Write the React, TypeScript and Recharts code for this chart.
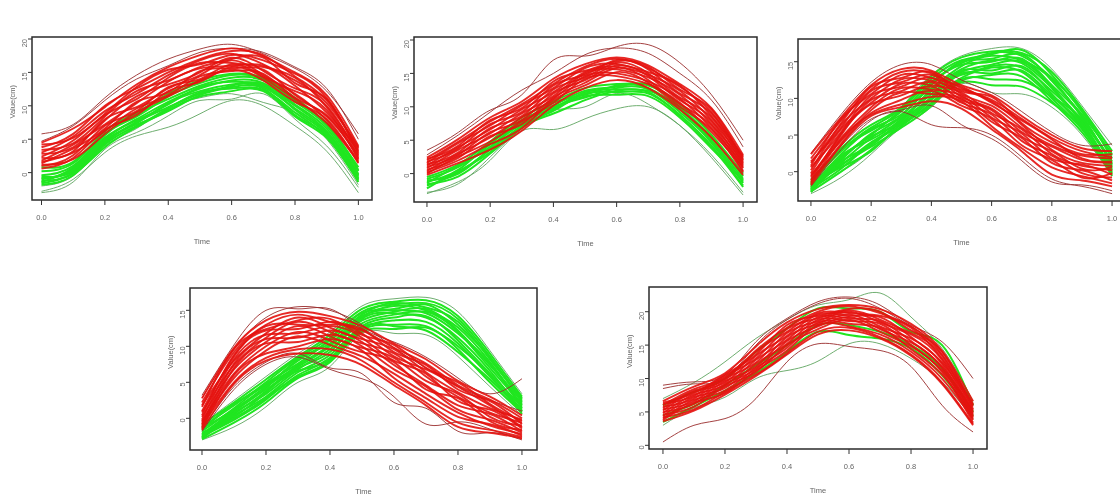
import React from "react";
import { LineChart, Line, XAxis, YAxis, ReferenceArea } from "recharts";

const time = [0, 0.1, 0.2, 0.3, 0.4, 0.5, 0.6, 0.7, 0.8, 0.9, 1];
const xTicks = [0, 0.2, 0.4, 0.6, 0.8, 1];
const xLabels = ["0.0", "0.2", "0.4", "0.6", "0.8", "1.0"];

const p1Green = [
  [-28,-10,30,55,68,88,108,100,70,32,-30],[-30,-14,35,60,85,108,110,118,80,40,-22],[-20,-5,40,66,98,112,118,105,90,50,-18],
  [8,16,62,90,118,138,148,142,112,72,8],[2,14,58,84,114,134,146,140,108,74,4],[-4,10,56,88,110,130,142,138,106,70,2],
  [-10,6,50,80,106,126,138,134,102,66,-2],[-14,8,52,78,102,128,136,130,100,62,-4],[-6,2,46,74,104,122,132,128,96,60,-8],
  [-16,0,44,76,98,118,130,132,94,58,-6],[-18,-4,42,70,96,120,126,124,90,54,-12],[-8,4,48,72,92,116,128,126,86,56,-10],
  [-12,-2,38,68,94,114,122,122,84,52,-14],
];
const p1Red = [
  [58,72,112,146,170,185,192,178,156,122,58],[47,70,108,140,160,180,186,180,158,126,50],
  [45,66,98,132,158,176,186,174,150,116,40],[38,58,100,126,150,170,182,176,144,108,36],[42,52,88,128,154,162,176,168,148,112,30],
  [30,54,92,118,146,168,178,162,138,104,38],[34,44,84,122,138,158,170,172,134,110,28],[24,48,86,110,142,164,164,158,142,98,32],
  [28,38,78,114,132,150,172,152,126,100,24],[18,42,72,104,136,156,160,160,130,90,34],[22,32,80,98,126,146,168,146,122,94,20],
  [14,36,66,106,120,152,156,154,116,84,26],[10,26,70,92,128,140,162,144,118,78,18],[16,30,62,96,116,144,152,148,112,86,22],
  [6,22,64,86,122,136,158,142,110,74,16],[12,20,58,90,114,138,154,138,106,80,14],
];

const p2Green = [
  [-30,-12,20,64,66,82,97,100,72,24,-32],[-28,-15,25,68,95,100,120,104,72,28,-28],
  [-5,14,48,84,108,128,134,132,104,58,0],[-8,10,44,80,102,124,130,134,100,54,-4],[-12,6,46,76,106,118,132,128,96,50,-8],
  [-14,12,40,78,98,122,126,124,98,46,-12],[-18,2,36,72,100,114,128,126,92,48,-14],[-10,0,38,74,94,120,122,120,88,42,-18],
  [-22,4,32,70,90,110,124,122,86,38,-10],[-16,-4,30,68,96,116,118,116,84,40,-20],
];
const p2Red = [
  [35,62,95,118,170,176,190,193,166,118,50],[28,58,92,125,150,178,188,180,150,110,40],
  [24,52,84,108,142,164,174,162,134,98,28],[20,48,78,104,134,160,172,158,130,92,24],[22,42,80,98,138,154,168,160,126,96,20],
  [16,46,72,102,128,158,164,152,132,86,26],[18,38,74,92,132,148,170,156,120,90,16],[12,40,66,96,122,152,160,148,124,80,22],
  [14,32,68,86,126,144,166,150,114,84,12],[8,36,60,90,116,150,156,144,118,74,18],[10,28,62,80,120,140,162,146,110,78,8],
  [4,30,54,84,112,146,150,138,112,68,14],[6,24,56,74,114,136,158,140,104,72,4],[0,26,48,78,106,142,146,134,106,62,10],
  [2,20,44,68,110,132,152,136,100,66,2],[-2,16,36,64,102,128,140,128,96,54,-2],
];

const p3Green = [
  [-28,0,30,86,132,158,168,168,140,90,36],[-30,-8,24,60,88,120,108,106,88,50,-6],
  [-11,32,64,88,130,156,164,162,136,86,28],[-14,28,60,86,126,152,160,166,132,82,22],[-18,30,56,82,122,148,162,158,128,84,18],
  [-20,24,58,78,118,150,154,160,124,78,24],[-22,20,50,84,114,144,158,152,126,74,14],[-16,16,52,76,120,146,150,154,118,76,8],
  [-24,22,44,72,110,140,152,148,114,70,12],[-26,12,46,74,106,136,146,150,116,66,4],[-19,8,40,68,112,132,144,142,110,68,0],
  [-28,14,36,70,102,138,138,144,106,62,6],[-23,4,38,64,98,128,142,136,100,58,-2],[-27,0,30,62,94,124,132,130,96,54,-4],
  [-25,18,48,66,92,122,118,116,94,60,2],[-21,10,34,60,90,126,126,124,102,64,-6],[-17,6,28,66,100,134,134,138,104,72,10],
];
const p3Red = [
  [25,78,122,146,146,125,108,82,54,36,38],[-20,30,70,82,64,60,50,20,-10,-20,-30],[-10,35,72,84,90,64,45,15,-14,-18,-26],
  [24,74,118,140,138,118,104,76,50,32,28],[18,70,112,136,134,114,98,72,46,28,20],[12,66,116,128,136,110,102,66,40,24,24],
  [8,72,106,132,128,116,94,70,44,18,14],[14,60,110,122,132,106,90,60,36,22,18],[2,64,100,126,124,112,96,64,30,12,8],
  [6,54,104,116,128,102,86,54,34,16,12],[-2,58,94,120,118,108,80,58,24,8,2],[-6,50,98,110,122,98,84,48,28,4,6],
  [-8,46,88,114,112,104,74,52,18,10,-4],[-12,52,92,104,116,94,78,42,22,-2,-8],[-4,42,84,108,106,100,68,46,12,2,-12],
  [-14,38,80,98,110,90,72,36,16,-8,-2],[-16,44,78,92,102,96,62,32,6,-6,-16],[-18,36,76,88,96,86,58,28,-4,-12,-20],
];

const p4Green = [
  [-8,25,58,90,120,156,166,168,148,94,34],[-30,-12,16,50,72,118,118,116,86,44,4],
  [-9,22,54,86,116,152,162,164,142,90,30],[-12,18,50,84,112,148,158,160,138,86,26],[-16,20,46,80,108,144,160,154,134,82,28],
  [-18,14,48,76,110,146,152,158,130,84,22],[-22,10,42,82,104,140,156,150,126,78,18],[-14,12,44,72,100,136,148,152,122,74,24],
  [-24,6,38,74,102,142,150,146,118,76,14],[-26,8,34,68,96,132,144,148,120,70,20],[-20,2,36,70,92,138,146,140,112,66,10],
  [-28,4,30,64,88,128,140,142,108,62,16],[-25,-2,26,60,84,124,136,134,104,58,12],[-29,-6,22,56,78,122,130,128,96,50,8],
  [-27,12,40,66,82,126,128,122,92,54,10],[-23,0,28,58,80,120,124,126,100,60,6],
];
const p4Red = [
  [32,102,150,152,152,125,106,85,56,34,55],[28,96,140,155,150,130,98,70,44,25,10],[-18,40,75,85,68,55,30,-8,-5,-15,-30],[-15,44,78,90,70,62,22,14,-18,-20,-28],
  [28,98,136,148,142,128,104,82,52,30,4],[22,92,130,144,134,122,98,76,46,26,0],[16,96,124,136,138,116,102,70,50,20,-4],
  [10,86,128,130,130,124,92,74,40,24,-8],[18,80,118,140,126,110,96,64,36,14,-2],[4,88,122,124,134,118,86,68,44,18,-12],
  [8,74,112,134,120,104,90,58,30,8,-6],[-2,82,116,118,128,112,80,62,24,12,-14],[2,68,106,128,114,98,84,52,34,2,-10],
  [-8,76,110,112,122,106,74,46,18,6,-18],[-4,62,100,120,108,92,78,40,28,-4,-16],[-12,70,104,106,116,100,68,44,12,-2,-20],
  [-6,56,94,114,102,86,62,34,8,-10,-22],[-14,60,90,100,110,94,56,28,2,-8,-24],[-10,50,84,96,96,80,50,22,-6,-16,-26],[-16,48,80,90,88,74,46,18,-12,-20,-28],
];

const p5Green = [
  [70,94,125,160,188,210,218,228,192,145,66],[30,56,72,100,112,126,152,152,130,95,40],
  [60,80,100,140,175,205,205,200,170,150,60],[45,62,90,120,150,180,180,170,150,115,50],[35,58,82,108,140,170,165,160,145,105,44],
];
const p5Red = [
  [90,95,105,155,190,215,222,210,180,155,100],[85,92,100,150,188,212,220,205,178,140,60],[5,30,40,70,125,152,148,142,118,60,20],
  [66,88,108,148,184,204,210,204,182,142,66],[60,84,102,142,176,200,208,198,178,136,60],[64,78,106,136,180,194,204,200,172,140,54],
  [56,82,98,140,170,198,198,194,176,130,62],[62,74,104,130,174,190,202,188,168,134,50],[52,80,94,134,164,196,194,192,162,124,58],
  [58,70,100,124,168,186,200,184,166,128,46],[48,76,90,128,158,192,190,186,156,118,52],[54,66,96,118,162,182,196,178,160,122,42],
  [44,72,86,122,152,188,186,182,150,112,48],[50,62,92,114,156,178,192,174,154,116,38],[40,68,82,116,146,184,182,176,144,106,44],
  [46,58,88,110,150,174,188,170,148,110,34],[38,64,78,112,142,180,178,166,140,100,40],[42,54,80,106,138,170,176,162,136,94,32],[36,52,76,104,136,166,172,160,134,92,30],
];

const yTicks1 = [0, 50, 100, 150, 200];
const yLabels1 = ["0", "5", "10", "15", "20"];
const yTicks2 = [0, 50, 100, 150];
const yLabels2 = ["0", "5", "10", "15"];

const panels = [
  { left: 32, top: 37, w: 340, h: 163, xDom: [-0.03, 1.043], yDom: [-41, 203], yTicks: yTicks1, yLabels: yLabels1, green: p1Green, red: p1Red, gEdge: 3, rEdge: 2 },
  { left: 414, top: 37, w: 343, h: 165, xDom: [-0.041, 1.044], yDom: [-42.5, 204.5], yTicks: yTicks1, yLabels: yLabels1, green: p2Green, red: p2Red, gEdge: 2, rEdge: 2 },
  { left: 798, top: 39, w: 327, h: 162, xDom: [-0.043, 1.043], yDom: [-40, 181], yTicks: yTicks2, yLabels: yLabels2, green: p3Green, red: p3Red, gEdge: 2, rEdge: 3 },
  { left: 190, top: 288, w: 347, h: 162, xDom: [-0.0375, 1.047], yDom: [-44, 181], yTicks: yTicks2, yLabels: yLabels2, green: p4Green, red: p4Red, gEdge: 2, rEdge: 4 },
  { left: 649, top: 287, w: 338, h: 162, xDom: [-0.045, 1.045], yDom: [-5.5, 237], yTicks: yTicks1, yLabels: yLabels1, green: p5Green, red: p5Red, gEdge: 2, rEdge: 3 },
];

const RED = "#e4120e";
const GREEN = "#20e620";
const RED_EDGE = "#9a2c2c";
const GREEN_EDGE = "#5fa560";
const FONT = "'Liberation Sans', sans-serif";

function Panel({ p }: { p: (typeof panels)[number] }) {
  const rows = time.map((t, i) => {
    const row: Record<string, number> = { t };
    p.green.forEach((s, k) => (row["g" + k] = s[i]));
    p.red.forEach((s, k) => (row["r" + k] = s[i]));
    return row;
  });
  const mTop = 6;
  const yW = 32;
  const xH = 50;
  const tick = { fontSize: 7.5, fill: "#666", fontFamily: FONT };
  return (
    <div style={{ position: "absolute", left: p.left - yW, top: p.top - mTop }}>
      <LineChart
        width={p.w + yW + 4}
        height={p.h + mTop + xH}
        data={rows}
        margin={{ top: mTop, right: 4, bottom: 0, left: 0 }}
      >
        <XAxis
          dataKey="t"
          type="number"
          domain={p.xDom}
          allowDataOverflow
          ticks={xTicks}
          interval={0}
          tickFormatter={(v: number) => xLabels[xTicks.indexOf(v)]}
          axisLine={false}
          tickLine={{ stroke: "#333" }}
          tickSize={5}
          tickMargin={10}
          height={xH}
          tick={tick}
          label={{ value: "Time", position: "insideBottom", offset: 6, fontSize: 7.5, fill: "#666", fontFamily: FONT }}
        />
        <YAxis
          type="number"
          domain={p.yDom}
          allowDataOverflow
          ticks={p.yTicks}
          interval={0}
          tickFormatter={(v: number) => p.yLabels[p.yTicks.indexOf(v)]}
          axisLine={false}
          tickLine={{ stroke: "#333" }}
          tickSize={4}
          tickMargin={4}
          width={yW}
          tick={{ ...tick, angle: -90 }}
          label={{ value: "Value(cm)", angle: -90, position: "insideLeft", offset: 0, dx: 12, fontSize: 7.5, fill: "#666", fontFamily: FONT }}
        />
        {p.green.map((_, k) => (
          <Line
            key={"g" + k}
            type="natural"
            dataKey={"g" + k}
            dot={false}
            isAnimationActive={false}
            stroke={k < p.gEdge ? GREEN_EDGE : GREEN}
            strokeWidth={k < p.gEdge ? 0.9 : 2}
          />
        ))}
        {p.red.map((_, k) => (
          <Line
            key={"r" + k}
            type="natural"
            dataKey={"r" + k}
            dot={false}
            isAnimationActive={false}
            stroke={k < p.rEdge ? RED_EDGE : RED}
            strokeWidth={k < p.rEdge ? 0.9 : 1.9}
            strokeOpacity={k < p.rEdge ? 1 : 0.9}
          />
        ))}
        <ReferenceArea
          x1={p.xDom[0]}
          x2={p.xDom[1]}
          y1={p.yDom[0]}
          y2={p.yDom[1]}
          fill="none"
          stroke="#2b2b2b"
          strokeWidth={1.5}
          ifOverflow="visible"
        />
      </LineChart>
    </div>
  );
}

export default function App() {
  return (
    <div style={{ position: "fixed", left: 0, top: 0, width: 1120, height: 497, overflow: "hidden", background: "#fff", filter: "blur(0.4px)" }}>
      {panels.map((p, i) => (
        <Panel key={i} p={p} />
      ))}
    </div>
  );
}
